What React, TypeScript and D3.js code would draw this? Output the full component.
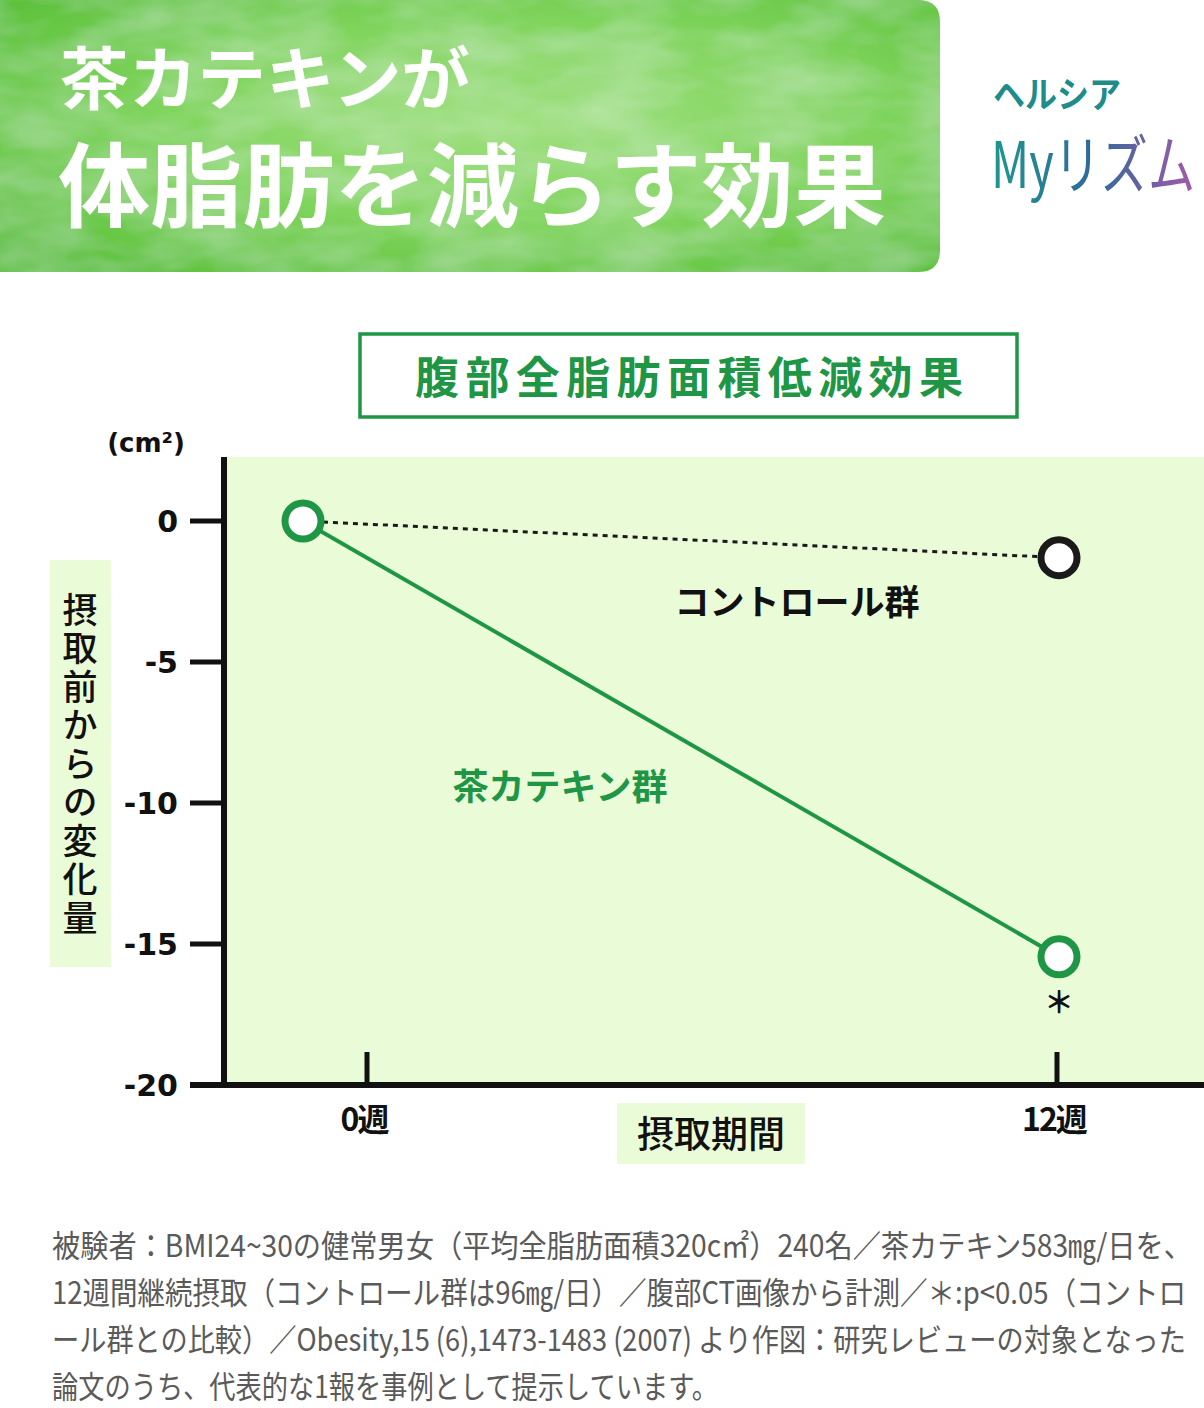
import React from "react";
import * as d3 from "d3";

const weeks = [0, 12];
const xTickLabels = ["0週", "12週"];
const teaValues = [0, -15.45];
const controlValues = [0, -1.3];
const yTicks = [0, -5, -10, -15, -20];
const yLabel = "摂取前からの変化量";
const footLines = [
  "被験者：BMI24~30の健常男女（平均全脂肪面積320c㎡）240名／茶カテキン583㎎/日を、",
  "12週間継続摂取（コントロール群は96㎎/日）／腹部CT画像から計測／＊:p<0.05（コントロ",
  "ール群との比較）／Obesity,15 (6),1473-1483 (2007) より作図：研究レビューの対象となった",
  "論文のうち、代表的な1報を事例として提示しています。",
];
const footWidths = [1140, 1134, 1134, 666];

const JP = "'Noto Sans CJK JP', 'Noto Sans', sans-serif";
const NUM = "'DejaVu Sans', sans-serif";
const GREEN = "#1e9645";

export default function App() {
  const W = 1204, H = 1408;
  const x = d3.scaleLinear().domain([0, 12]).range([367, 1057]);
  const y = d3.scaleLinear().domain([-20, 0]).range([1085, 521]);
  const startShift = -64;
  const px = (i: number) => x(weeks[i]) + (i === 0 ? startShift : 2);
  const line = d3.line<number>().x((_, i) => px(i)).y((v) => y(v));
  const plotLeft = 224, plotTop = 457, plotRight = 1204;

  return (
    <svg width={W} height={H} style={{ position: "absolute", left: 0, top: 0 }} xmlns="http://www.w3.org/2000/svg">
      <defs>
        <radialGradient id="bannerGrad" cx="55%" cy="45%" r="70%">
          <stop offset="0%" stopColor="#9fe07f" />
          <stop offset="55%" stopColor="#7fd45c" />
          <stop offset="100%" stopColor="#5cc13a" />
        </radialGradient>
        <linearGradient id="logoGrad" x1="0" x2="1" y1="0" y2="0">
          <stop offset="0%" stopColor="#1f9690" />
          <stop offset="50%" stopColor="#2f6a9a" />
          <stop offset="100%" stopColor="#a45aaa" />
        </linearGradient>
        <filter id="mottle" x="0" y="0" width="100%" height="100%">
          <feTurbulence type="fractalNoise" baseFrequency="0.012 0.03" numOctaves="3" seed="4" result="n" />
          <feColorMatrix in="n" type="matrix" values="0 0 0 0 1  0 0 0 0 1  0 0 0 0 1  0 0 0 0.35 -0.1" result="w" />
          <feComposite in="w" in2="SourceGraphic" operator="in" result="wm" />
          <feMerge>
            <feMergeNode in="SourceGraphic" />
            <feMergeNode in="wm" />
          </feMerge>
        </filter>
      </defs>
      <rect x={0} y={0} width={W} height={H} fill="#ffffff" />

      {/* banner */}
      <path d="M0,0 H918 Q940,0 940,22 V250 Q940,272 918,272 H0 Z" fill="url(#bannerGrad)" filter="url(#mottle)" />
      <text x={60} y={104} fill="#ffffff" fontFamily={JP} fontWeight={700} fontSize={68} textLength={410} lengthAdjust="spacingAndGlyphs">茶カテキンが</text>
      <text x={58} y={220} fill="#ffffff" fontFamily={JP} fontWeight={700} fontSize={92} textLength={828} lengthAdjust="spacingAndGlyphs">体脂肪を減らす効果</text>

      {/* logo */}
      <text x={993} y={108} fill="#1d8c8a" fontFamily={JP} fontWeight={700} fontSize={36} textLength={128} lengthAdjust="spacingAndGlyphs">ヘルシア</text>
      <text x={991} y={188} fill="url(#logoGrad)" fontFamily={JP} fontWeight={400} fontSize={64} textLength={204} lengthAdjust="spacingAndGlyphs">Myリズム</text>

      {/* chart title box */}
      <rect x={360} y={334} width={657} height={83} fill="#ffffff" stroke={GREEN} strokeWidth={3.5} />
      <text x={415} y={394} fill={GREEN} fontFamily={JP} fontWeight={700} fontSize={44} textLength={548} lengthAdjust="spacing">腹部全脂肪面積低減効果</text>

      {/* plot background */}
      <rect x={plotLeft} y={plotTop} width={plotRight - plotLeft} height={1085 - plotTop} fill="#eafcd7" />

      {/* y unit */}
      <text x={146} y={452} textAnchor="middle" fill="#111" fontFamily={NUM} fontWeight={700} fontSize={26}>(cm²)</text>

      {/* y label box */}
      <rect x={50} y={560} width={61} height={407} fill="#eafcd7" />
      <text x={80} y={592} fill="#111" fontFamily={JP} fontWeight={500} fontSize={35} letterSpacing={3.5} style={{ writingMode: "vertical-rl" }}>{yLabel}</text>

      {/* y ticks */}
      {yTicks.map((t) => (
        <g key={t}>
          <line x1={190} x2={plotLeft} y1={y(t)} y2={y(t)} stroke="#111" strokeWidth={5} />
          <text x={178} y={y(t) + 11} textAnchor="end" fill="#111" fontFamily={NUM} fontWeight={700} fontSize={30}>{t}</text>
        </g>
      ))}

      {/* axes */}
      <line x1={plotLeft} x2={plotLeft} y1={plotTop} y2={1088} stroke="#111" strokeWidth={6} />
      <line x1={190} x2={plotRight} y1={1085} y2={1085} stroke="#111" strokeWidth={6} />

      {/* x ticks */}
      {weeks.map((w, i) => (
        <g key={w}>
          <line x1={x(w)} x2={x(w)} y1={1052} y2={1085} stroke="#111" strokeWidth={5} />
          <text x={x(w) - 3} y={1131} textAnchor="middle" fill="#111" fontFamily={JP} fontWeight={700} fontSize={32} letterSpacing={-2}>{xTickLabels[i]}</text>
        </g>
      ))}

      {/* x label */}
      <rect x={617} y={1103} width={188} height={61} fill="#eafcd7" />
      <text x={711} y={1148} textAnchor="middle" fill="#111" fontFamily={JP} fontWeight={500} fontSize={37}>摂取期間</text>

      {/* lines */}
      <path d={line(controlValues) || ""} fill="none" stroke="#1a1a1a" strokeWidth={3} strokeDasharray="5 5" />
      <path d={line(teaValues) || ""} fill="none" stroke={GREEN} strokeWidth={4} />

      {/* markers */}
      {controlValues.map((v, i) => i > 0 && (
        <circle key={"c" + i} cx={px(i)} cy={y(v)} r={18} fill="#ffffff" stroke="#1a1a1a" strokeWidth={7} />
      ))}
      {teaValues.map((v, i) => (
        <circle key={"t" + i} cx={px(i)} cy={y(v)} r={18} fill="#ffffff" stroke={GREEN} strokeWidth={7} />
      ))}
      <text x={px(1)} y={y(teaValues[1]) + 56} textAnchor="middle" fill="#111" fontFamily={JP} fontWeight={700} fontSize={30}>＊</text>

      {/* series labels */}
      <text x={797} y={615} textAnchor="middle" fill="#111" fontFamily={JP} fontWeight={700} fontSize={35}>コントロール群</text>
      <text x={560} y={800} textAnchor="middle" fill={GREEN} fontFamily={JP} fontWeight={700} fontSize={36}>茶カテキン群</text>

      {/* footnote */}
      {footLines.map((l, i) => (
        <text key={i} x={52} y={1257 + i * 47} fill="#5a5a5a" fontFamily={JP} fontWeight={400} fontSize={31} textLength={footWidths[i]} lengthAdjust="spacingAndGlyphs">{l}</text>
      ))}
    </svg>
  );
}
